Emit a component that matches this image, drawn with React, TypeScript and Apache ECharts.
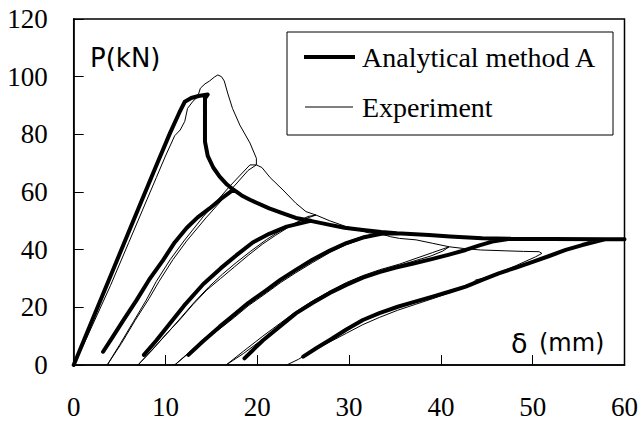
import React, { useEffect, useRef } from "react";
import * as echarts from "echarts";

// ---- Analytical method A (thick) ----
const anaEnv0 = [[0,0],[2,15.4],[4,30.8],[6,46.2],[7.4,57],[9,69.2],[10.5,80.5],[11.5,87.5],[12.1,91.3],[12.8,92.6],[13.6,93.3],[14.6,93.8],[14.3,92.5],[14.3,85],[14.3,77.5],[14.6,72.5],[15.2,68.5],[15.9,65.3],[16.7,62.6],[17.4,60.8]];
const anaReload1 = [[3.2,4.6],[4.2,9.5],[5.4,15.5],[6.85,22.5],[8.2,29.5],[9.74,36.4],[11,42.5],[12.3,47.5],[13.5,51.2],[14.8,54.3],[16,57.5],[17.4,60.8]];
const anaEnv1 = [[18.3,58.8],[19.2,57.3],[21.3,54.3],[22.8,52.6],[24.2,51],[25.8,50]];
const anaReload2 = [[7.65,3.5],[9,8.5],[10.5,14.5],[12,20.5],[14.1,28],[16,33.5],[17.7,38],[19.5,42.5],[21.3,45.5],[23.2,48],[25.8,50]];
const anaEnv2 = [[27.9,48.6],[29.5,47.6],[31.5,46.8],[33.5,46.1],[35.2,45.7]];
const anaReload3 = [[12.5,3.5],[14,8],[15.9,13.3],[17.5,17.5],[19,21.5],[21,26],[22.5,29.5],[24.2,33],[26,36.5],[27.9,39.7],[29.7,42.3],[31.5,44.2],[33.5,45.5],[35.2,45.7]];
const anaEnv3 = [[38.7,45.1],[41,44.6],[44.5,44],[47.6,43.8]];
const anaReload4 = [[18.6,2.3],[20.6,8.5],[22.5,13.5],[24.2,17.9],[26,21.5],[27.9,25],[29.7,27.8],[31.5,30.3],[33.3,32.2],[35.1,33.8],[37,35.2],[39.1,36.8],[40.9,38.3],[42.7,39.9],[44.2,41.5],[45.6,42.8],[47.6,43.8]];
const anaEnv4 = [[52,43.7],[57.9,43.6]];
const anaReload5 = [[25,2.9],[26.5,6],[27.9,8.7],[29.7,12.3],[31.5,15.6],[33.3,18],[35.3,20.2],[37.2,22],[39.1,23.7],[40.9,25.4],[42.7,27.2],[44.5,29.5],[46.3,31.8],[48.2,33.8],[50,35.8],[51.8,37.8],[53.6,39.9],[55.4,41.6],[57.2,43.1],[57.9,43.6]];
const anaEnv5 = [[60,43.6]];

// ---- Experiment (thin) ----
const expEnv0 = [[0,0],[1,6.5],[2,13.5],[3,20.5],[4,27.5],[5,35],[6,42.5],[7,50],[8,57.5],[9,65],[10,72.5],[11,79.5],[11.6,81.5],[12.1,84.5],[12.4,89],[13,91.5],[13.5,93],[13.8,96],[14.3,97.5],[14.8,98.5],[15.3,99.8],[15.7,100.6],[16.1,100],[16.4,98.5],[16.8,94],[17.3,89],[18.1,83.2],[19.2,77],[19.9,71.7],[19.9,69.4],[19.2,69.4]];
const expUnload1 = [[17,62],[14.1,51.4],[12,43],[10.5,36.5],[9,29],[7.9,22.5],[6.5,15],[5,7],[3.65,0]];
const expReload1 = [[5.2,7.5],[6.7,15.5],[8.2,23],[9.3,29],[10.8,36.5],[12.3,43],[14.4,51],[17.2,61],[19,67.5],[19.9,69.4]];
const expEnv1 = [[20.5,68.5],[21.4,65],[22.8,60.7],[24.2,56.1],[25.3,53.2],[26.4,52]];
const expUnload2 = [[25.5,51.5],[24,49],[22.5,46.5],[21,43.5],[19.3,39.5],[17.7,35.5],[16.2,31.5],[14.7,27],[13.2,22],[11.7,16.5],[10.2,11],[8.6,5.5],[7,0]];
const expReload2 = [[8.5,5],[10,10.5],[11.5,15.5],[13,21],[14.5,26],[16,30],[17.5,34],[19,38],[20.6,42],[22,45],[23.5,48],[25,50.5],[26.4,52]];
const expEnv2 = [[27.9,50],[29.5,48.2],[31,46.8],[32.2,45.8],[33.5,45.5]];
const expUnload3 = [[31.5,44.6],[29.7,42.6],[27.9,40],[26,36.6],[24.2,33.2],[22.5,29.7],[21,26.3],[19,21.8],[17.5,17.8],[15.9,13.7],[14,8.6],[12.5,4.2],[11,0]];
const expReload3 = [[12.5,4],[14,8],[15.9,12.5],[17.5,16.5],[19,20.5],[21,25],[22.5,28.5],[24.2,32],[26,35.5],[27.9,39],[29.7,41.7],[31.5,43.8],[33.5,45.5]];
const expEnv3 = [[34.5,44.5],[35.5,43.9],[37.3,43.4],[39.1,42.2],[40.9,41]];
const expUnload4 = [[39.1,39],[37.3,37],[35.5,35],[33.3,33],[31.5,31],[29.7,28.6],[27.9,25.6],[26,22.2],[24.2,18.5],[22.5,14.5],[20.6,10],[18.5,4.8],[16.6,0]];
const expReload4 = [[18.5,4],[20.6,9],[22.5,13.8],[24.2,17.8],[26,21.3],[27.9,24.8],[29.7,27.8],[31.5,30.3],[33.3,32.4],[35.1,34.2],[37,36],[38.9,37.8],[40.2,39.5],[40.9,41]];
const expEnv4 = [[42.5,40.4],[44.3,39.9],[47,39.6],[49,39.4],[50.7,39.3],[51,38.7],[50.3,37.5]];
const expUnload5 = [[48.2,34.5],[46.3,32],[44.5,30],[43.8,29.5],[43.3,28],[42.7,27],[40.9,25],[39.1,23],[37.2,21],[35.3,19],[33.3,16.5],[31.5,14],[29.7,11],[27.9,8],[26,5],[24.5,2],[23.2,0]];

const xTickLabels = ["0", "10", "20", "30", "40", "50", "60"];
const yTickLabels = ["0", "20", "40", "60", "80", "100", "120"];
const legendNames = ["Analytical method A", "Experiment"];

function rev(a: number[][]) {
  return a.slice().reverse();
}

const analyticalPath = [
  ...anaEnv0,
  ...rev(anaReload1), ...anaReload1, ...anaEnv1,
  ...rev(anaReload2), ...anaReload2, ...anaEnv2,
  ...rev(anaReload3), ...anaReload3, ...anaEnv3,
  ...rev(anaReload4), ...anaReload4, ...anaEnv4,
  ...rev(anaReload5), ...anaReload5, ...anaEnv5,
];

const experimentPath = [
  ...expEnv0, ...expUnload1, ...expReload1, ...expEnv1,
  ...expUnload2, ...expReload2, ...expEnv2,
  ...expUnload3, ...expReload3, ...expEnv3,
  ...expUnload4, ...expReload4, ...expEnv4,
  ...expUnload5,
];

export default function App() {
  const ref = useRef<HTMLDivElement>(null);
  useEffect(() => {
    if (!ref.current) return;
    const chart = echarts.init(ref.current, null, { renderer: "svg" });
    const serif = "Liberation Serif";
    const sans = "DejaVu Sans";
    chart.setOption({
      animation: false,
      backgroundColor: "#fff",
      textStyle: { fontFamily: serif, color: "#000" },
      grid: {
        left: 73.7,
        right: 15.3,
        top: 19,
        bottom: 65,
        show: true,
        borderColor: "#000",
        borderWidth: 1.5,
        backgroundColor: "transparent",
      },
      xAxis: {
        type: "value",
        min: 0,
        max: 60,
        interval: 10,
        axisLine: { show: true, lineStyle: { color: "#000", width: 1.5 } },
        axisTick: { show: true, inside: true, length: 10, lineStyle: { color: "#000", width: 1 } },
        splitLine: { show: false },
        axisLabel: {
          color: "#000",
          fontFamily: serif,
          fontSize: 27,
          margin: 28,
          formatter: (v: number) => xTickLabels[Math.round(v / 10)] ?? "",
        },
      },
      yAxis: {
        type: "value",
        min: 0,
        max: 120,
        interval: 20,
        axisLine: { show: true, lineStyle: { color: "#000", width: 1.5 } },
        axisTick: { show: true, inside: true, length: 10, lineStyle: { color: "#000", width: 1 } },
        splitLine: { show: false },
        axisLabel: {
          color: "#000",
          fontFamily: serif,
          fontSize: 27,
          margin: 26,
          formatter: (v: number) => yTickLabels[Math.round(v / 20)] ?? "",
        },
      },
      series: [
        {
          name: legendNames[1],
          type: "line",
          data: experimentPath,
          showSymbol: false,
          symbol: "none",
          lineStyle: { color: "#000", width: 1 },
          z: 2,
        },
        {
          name: legendNames[0],
          type: "line",
          data: analyticalPath,
          showSymbol: false,
          symbol: "none",
          lineStyle: { color: "#000", width: 4, join: "round", cap: "round" },
          z: 3,
        },
      ],
      graphic: [
        {
          type: "rect",
          shape: { x: 287, y: 32, width: 326, height: 103 },
          style: { fill: "#fff", stroke: "#000", lineWidth: 1 },
          z: 100,
        },
        {
          type: "line",
          shape: { x1: 304, y1: 57, x2: 355, y2: 57 },
          style: { stroke: "#000", lineWidth: 4 },
          z: 101,
        },
        {
          type: "line",
          shape: { x1: 305, y1: 107, x2: 353, y2: 107 },
          style: { stroke: "#000", lineWidth: 1 },
          z: 101,
        },
        {
          type: "text",
          x: 362,
          y: 57,
          style: { text: legendNames[0], fill: "#000", fontFamily: serif, fontSize: 28, verticalAlign: "middle", align: "left" },
          z: 101,
        },
        {
          type: "text",
          x: 362,
          y: 107,
          style: { text: legendNames[1], fill: "#000", fontFamily: serif, fontSize: 28, verticalAlign: "middle", align: "left" },
          z: 101,
        },
        {
          type: "text",
          x: 90,
          y: 58,
          style: { text: "P(kN)", fill: "#000", fontFamily: sans, fontSize: 26, verticalAlign: "middle", align: "left" },
          z: 101,
        },
        {
          type: "text",
          x: 511,
          y: 343,
          style: { text: "δ", fill: "#000", fontFamily: sans, fontSize: 27, verticalAlign: "middle", align: "left" },
          z: 101,
        },
        {
          type: "text",
          x: 539,
          y: 343,
          style: { text: "(mm)", fill: "#000", fontFamily: sans, fontSize: 24, verticalAlign: "middle", align: "left" },
          z: 101,
        },
      ],
    });
    return () => chart.dispose();
  }, []);
  return (
    <div
      ref={ref}
      style={{ position: "absolute", left: 0, top: 0, width: 641, height: 430 }}
    />
  );
}
